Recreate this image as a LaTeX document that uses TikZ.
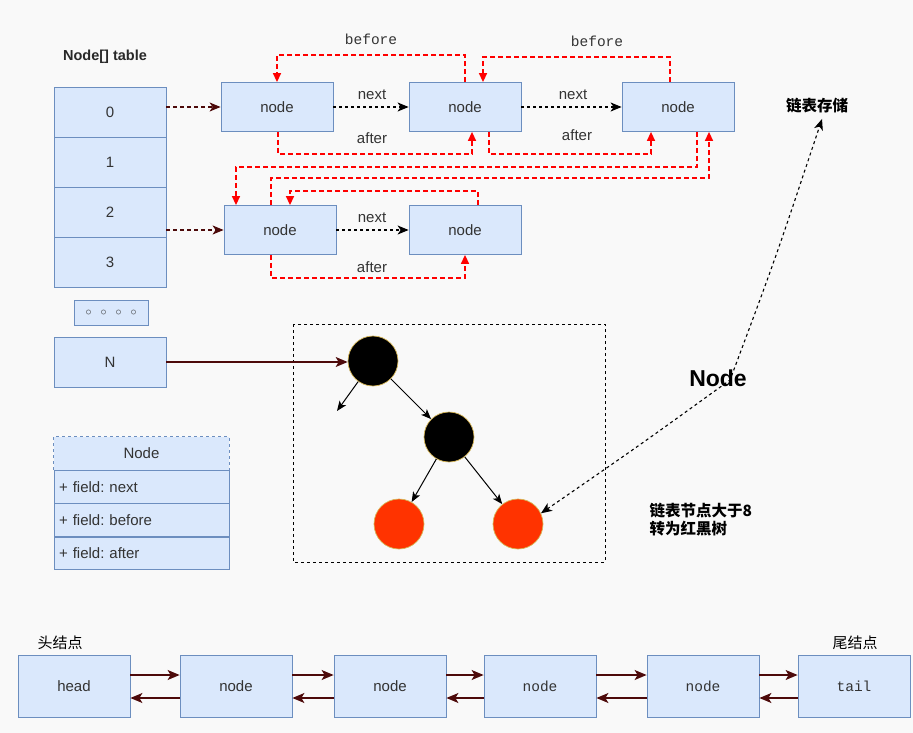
\documentclass[tikz,border=0pt]{standalone}
\usepackage{fontspec}
\setmainfont{Liberation Sans}
\setmonofont{Liberation Mono}
\newfontfamily\cjk{Noto Sans CJK SC}
\usetikzlibrary{arrows.meta,positioning}

\definecolor{boxfill}{HTML}{DAE8FC}
\definecolor{boxline}{HTML}{6C8EBF}
\definecolor{inktext}{HTML}{333333}
\definecolor{linkred}{HTML}{FF0000}
\definecolor{darklink}{HTML}{4D0A0A}
\definecolor{rimtan}{HTML}{D6B656}
\definecolor{treered}{HTML}{FF3300}
\definecolor{paper}{HTML}{F9F9F9}

\tikzset{
  listbox/.style={draw=boxline, fill=boxfill, line width=0.8pt, minimum width=112pt,
    minimum height=49pt, inner sep=0pt, text=inktext, font=\fontsize{15}{18}\selectfont},
  cell/.style={listbox, minimum height=50pt},
  chainbox/.style={listbox, minimum height=62pt},
  field/.style={draw=boxline, fill=boxfill, line width=0.8pt, minimum width=175pt,
    minimum height=32.5pt, inner sep=0pt, text=inktext, font=\fontsize{15}{18}\selectfont},
  linktext/.style={text=inktext, font=\fontsize{15}{18}\selectfont},
  monotext/.style={text=inktext, font=\ttfamily\fontsize{14.5}{17}\selectfont},
  redlink/.style={draw=linkred, dash pattern=on 5pt off 3pt, line width=1.4pt,
    -{Triangle[length=9pt,width=8pt]}},
  nextlink/.style={draw=black, dash pattern=on 3pt off 3pt, line width=1.1pt,
    -{Stealth[length=11pt,width=9pt,inset=3pt]}},
  bucketlink/.style={draw=darklink, dash pattern=on 4pt off 3pt, line width=1.2pt,
    -{Stealth[length=11pt,width=9pt,inset=3pt]}},
  chainlink/.style={draw=darklink, line width=1.3pt, -{Stealth[length=12pt,width=10pt,inset=3pt]}},
  treelink/.style={draw=black, line width=1pt, -{Stealth[length=10pt,width=8pt,inset=2.5pt]}},
  rbnode/.style={circle, draw=rimtan, line width=0.7pt, minimum size=50pt, inner sep=0pt},
}

\begin{document}
\frenchspacing
\begin{tikzpicture}[x=1pt,y=-1pt]
  \fill[paper] (0,0) rectangle (913,733);
  \useasboundingbox (0,0) rectangle (913,733);

  % bucket array
  \node[text=inktext!80!black, font=\bfseries\fontsize{14.5}{17}\selectfont] (tablelbl) at (105,57) {Node[] table};
  \node[cell] (t0) at (110,112) {0};
  \node[cell] (t1) at (110,162) {1};
  \node[cell] (t2) at (110,212) {2};
  \node[cell] (t3) at (110,262) {3};
  \node[listbox, minimum width=74pt, minimum height=25pt, font=\fontsize{12}{14}\selectfont] (tdots) at (111,312.5)
    {$\circ$\hspace{9pt}$\circ$\hspace{9pt}$\circ$\hspace{9pt}$\circ$};
  \node[cell] (tN) at (110,362) {N};

  % linked list of bucket 0 and bucket 2
  \node[listbox] (l0a) at (277,107) {node};
  \node[listbox] (l0b) at (465,107) {node};
  \node[listbox] (l0c) at (678,107) {node};
  \node[listbox] (l2a) at (280,230) {node};
  \node[listbox] (l2b) at (465,230) {node};

  \draw[bucketlink] (t0.east |- l0a.west) -- (l0a.west);
  \draw[bucketlink] (t2.east |- l2a.west) -- (l2a.west);

  \draw[nextlink] (l0a) -- (l0b);
  \draw[nextlink] (l0b) -- (l0c);
  \draw[nextlink] (l2a) -- (l2b);
  \node[linktext] at (372,95) {next};
  \node[linktext] at (573,95) {next};
  \node[linktext] at (372,218) {next};

  \draw[redlink] (l0b.north) -- ++(0,-27) -| (l0a.north); % before
  \draw[redlink] ([xshift=-8pt]l0c.north) -- ++(0,-25) -| ([xshift=18pt]l0b.north);
  \draw[redlink] ([xshift=1pt]l0a.south) -- ++(0,22) -| ([xshift=7pt]l0b.south); % after
  \draw[redlink] ([xshift=24pt]l0b.south) -- ++(0,22) -| ([xshift=-27pt]l0c.south);
  \draw[redlink] ([xshift=19pt]l0c.south) -- ++(0,35) -| ([xshift=-44pt]l2a.north);
  \draw[redlink] ([xshift=-9pt]l2a.north) -- ++(0,-27) -| ([xshift=31pt]l0c.south);
  \draw[redlink] ([xshift=13pt]l2b.north) -- ++(0,-14) -| ([xshift=10pt]l2a.north);
  \draw[redlink] ([xshift=-9pt]l2a.south) -- ++(0,23) -| (l2b.south);
  \node[monotext] at (371,39) {before};
  \node[monotext] at (597,41) {before};
  \node[linktext] at (372,138) {after};
  \node[linktext] at (577,135) {after};
  \node[linktext] at (372,267) {after};

  % red-black tree
  \draw[dashed, line width=0.9pt] (293,324) rectangle (605,562);
  \node[rbnode, fill=black] (rb1) at (373,361) {};
  \node[rbnode, fill=black] (rb2) at (449,437) {};
  \node[rbnode, fill=treered] (rr1) at (399,524) {};
  \node[rbnode, fill=treered] (rr2) at (518,524) {};
  \coordinate (nil) at (337,411);
  \draw[chainlink, line width=1.1pt] (tN.east) -- (tN.east -| rb1.west);
  \draw[treelink] (rb1) -- (nil);
  \draw[treelink] (rb1) -- (rb2);
  \draw[treelink] (rb2) -- (rr1);
  \draw[treelink] (rb2) -- (rr2);

  % labels on the right
  \node[font=\cjk\bfseries\fontsize{15.5}{18}\selectfont] (store) at (817,106) {链表存储};
  \node[font=\bfseries\fontsize{23}{26}\selectfont] (nodetag) at (718,378) {Node};
  \draw[nextlink, {Stealth[length=11pt,width=9pt,inset=3pt]}-{Stealth[length=11pt,width=9pt,inset=3pt]}]
    (rr2.25) .. controls (640,445) .. (730,380) .. controls (775,260) .. ([xshift=5pt,yshift=-2pt]store.south);
  \node[font=\cjk\bfseries\fontsize{15.5}{18}\selectfont, align=left, anchor=west] (treenote) at (646,520)
    {链表节点大于8\\转为红黑树};

  % Node class
  \node[field, draw=none] (cls) at (141.5,453.5) {Node};
  \draw[boxline, dashed, line width=0.8pt] (cls.south west) -- (cls.north west) -- (cls.north east) -- (cls.south east);
  \node[field, below=0pt of cls, text width=165pt, align=left] (f1) {+ field: next};
  \node[field, below=0pt of f1, text width=165pt, align=left] (f2) {+ field: before};
  \node[field, below=0pt of f2, text width=165pt, align=left] (f3) {+ field: after};

  % doubly linked list
  \node[chainbox] (head) at (74,686) {head};
  \node[chainbox] (c1) at (236,686) {node};
  \node[chainbox] (c2) at (390,686) {node};
  \node[chainbox, font=\ttfamily\fontsize{14.5}{17}\selectfont] (c3) at (540,686) {node};
  \node[chainbox, font=\ttfamily\fontsize{14.5}{17}\selectfont] (c4) at (703,686) {node};
  \node[chainbox, font=\ttfamily\fontsize{14.5}{17}\selectfont] (tail) at (854,686) {tail};
  \node[font=\cjk\fontsize{15}{18}\selectfont] at (60,643) {头结点};
  \node[font=\cjk\fontsize{15}{18}\selectfont] at (855,643) {尾结点};
  \foreach \a/\b in {head/c1, c1/c2, c2/c3, c3/c4, c4/tail} {
    \draw[chainlink] ([yshift=11pt]\a.east) -- ([yshift=11pt]\b.west);
    \draw[chainlink] ([yshift=-12pt]\b.west) -- ([yshift=-12pt]\a.east);
  }
\end{tikzpicture}
\end{document}
